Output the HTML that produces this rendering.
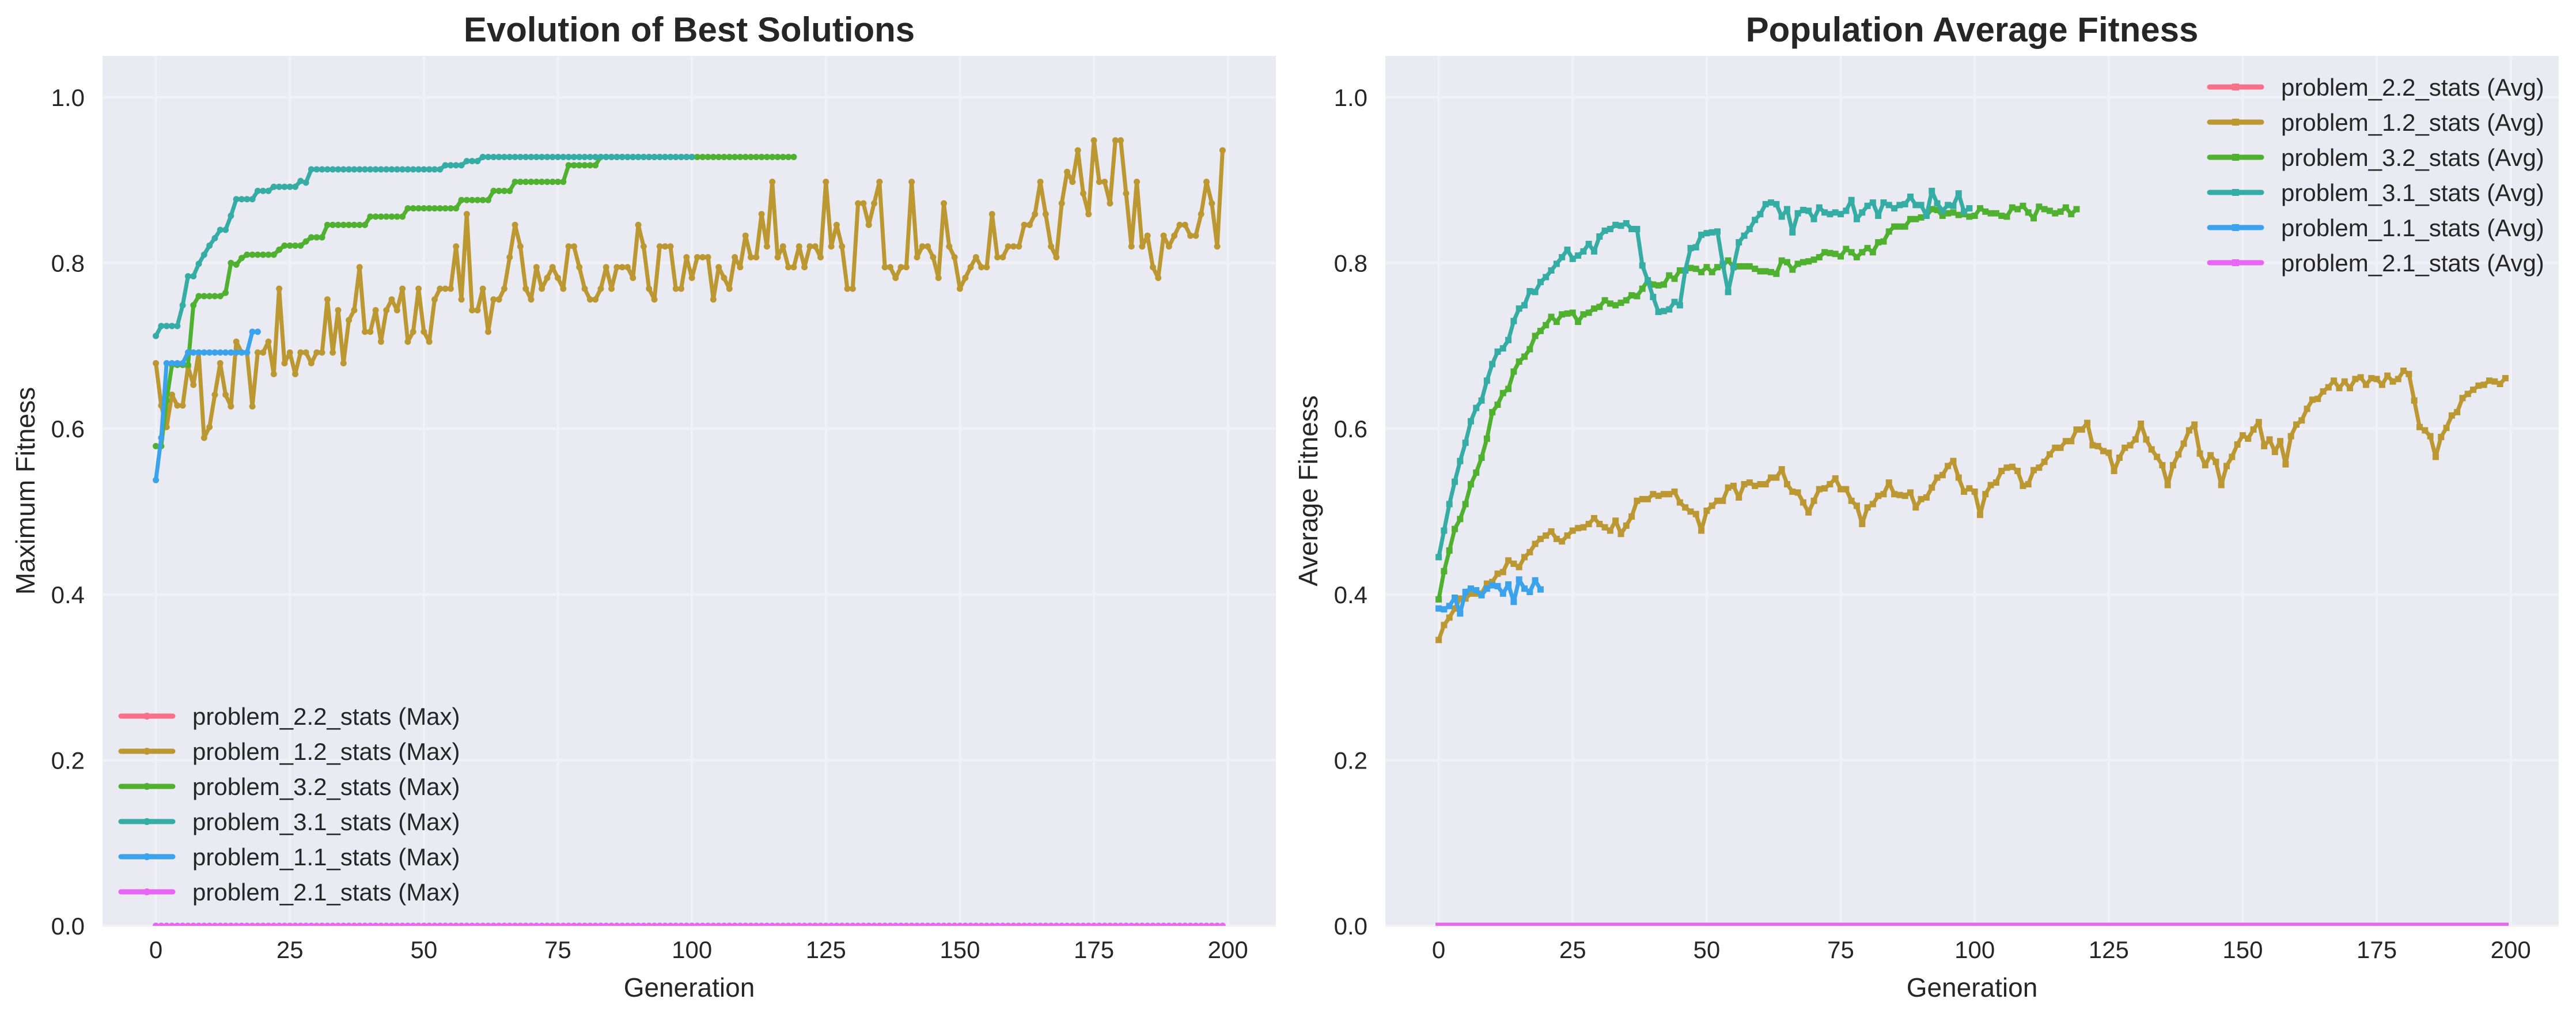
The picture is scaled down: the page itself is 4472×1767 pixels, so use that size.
<!DOCTYPE html>
<html><head><meta charset="utf-8">
<style>
html,body{margin:0;padding:0;background:#fff;}
svg{display:block;font-family:"Liberation Sans",Arial,sans-serif;}
</style></head>
<body>
<svg id="fig" xmlns="http://www.w3.org/2000/svg" width="4472" height="1767" viewBox="0 0 4472 1767"></svg>
<script>
const xTicks=[0,25,50,75,100,125,150,175,200];
const yTicks=[0,0.2,0.4,0.6,0.8,1.0];
const yTickLabels=["0.0","0.2","0.4","0.6","0.8","1.0"];
const seriesNames=["problem_2.2_stats","problem_1.2_stats","problem_3.2_stats","problem_3.1_stats","problem_1.1_stats","problem_2.1_stats"];
const seriesColors=["#f77189","#bb9832","#50b131","#36ada4","#3ba3ec","#e866f4"];

const zeros200=[0,0,0,0,0,0,0,0,0,0,0,0,0,0,0,0,0,0,0,0,0,0,0,0,0,0,0,0,0,0,0,0,0,0,0,0,0,0,0,0,0,0,0,0,0,0,0,0,0,0,0,0,0,0,0,0,0,0,0,0,0,0,0,0,0,0,0,0,0,0,0,0,0,0,0,0,0,0,0,0,0,0,0,0,0,0,0,0,0,0,0,0,0,0,0,0,0,0,0,0,0,0,0,0,0,0,0,0,0,0,0,0,0,0,0,0,0,0,0,0,0,0,0,0,0,0,0,0,0,0,0,0,0,0,0,0,0,0,0,0,0,0,0,0,0,0,0,0,0,0,0,0,0,0,0,0,0,0,0,0,0,0,0,0,0,0,0,0,0,0,0,0,0,0,0,0,0,0,0,0,0,0,0,0,0,0,0,0,0,0,0,0,0,0,0,0,0,0,0,0];

const max22=zeros200;
const max12=[.679,.628,.602,.641,.628,.628,.675,.653,.692,.589,
.602,.641,.679,.641,.627,.705,.692,.692,.627,.692,
.692,.705,.666,.769,.679,.692,.666,.692,.692,.679,
.692,.692,.756,.692,.743,.679,.731,.743,.795,.717,
.717,.743,.705,.743,.756,.743,.769,.705,.717,.769,
.717,.705,.756,.769,.769,.769,.820,.756,.859,.743,
.743,.769,.717,.756,.756,.769,.807,.846,.820,.769,
.756,.795,.769,.782,.795,.782,.769,.820,.820,.795,
.769,.756,.756,.769,.795,.769,.795,.795,.795,.782,
.846,.820,.769,.756,.820,.820,.820,.769,.769,.807,
.782,.807,.807,.807,.756,.795,.782,.769,.807,.795,
.833,.807,.807,.859,.820,.898,.807,.820,.795,.795,
.820,.795,.820,.820,.807,.898,.820,.846,.820,.769,
.769,.872,.872,.846,.872,.898,.795,.795,.782,.795,
.795,.898,.807,.820,.820,.807,.782,.872,.820,.807,
.769,.782,.795,.807,.795,.795,.859,.807,.807,.820,
.820,.820,.846,.846,.859,.898,.859,.820,.807,.872,
.910,.898,.936,.884,.859,.948,.898,.898,.872,.948,
.948,.884,.820,.898,.820,.833,.795,.782,.833,.820,
.833,.846,.846,.833,.833,.859,.898,.872,.820,.936];
const max32=[.579,.579,.634,.677,.677,.677,.677,.749,.760,.760,
.760,.760,.760,.764,.800,.798,.806,.810,.810,.810,
.810,.810,.810,.816,.821,.821,.821,.821,.826,.831,
.831,.831,.846,.846,.846,.846,.846,.846,.846,.846,
.856,.856,.856,.856,.856,.856,.856,.866,.866,.866,
.866,.866,.866,.866,.866,.866,.866,.876,.876,.876,
.876,.876,.876,.887,.887,.887,.887,.898,.898,.898,
.898,.898,.898,.898,.898,.898,.898,.918,.918,.918,
.918,.918,.918,.928,.928,.928,.928,.928,.928,.928,
.928,.928,.928,.928,.928,.928,.928,.928,.928,.928,
.928,.928,.928,.928,.928,.928,.928,.928,.928,.928,
.928,.928,.928,.928,.928,.928,.928,.928,.928,.928];
const max31=[.712,.724,.724,.724,.724,.749,.784,.784,.799,.810,
.821,.830,.840,.840,.857,.877,.877,.877,.877,.887,
.887,.887,.892,.892,.892,.892,.892,.899,.897,.913,
.913,.913,.913,.913,.913,.913,.913,.913,.913,.913,
.913,.913,.913,.913,.913,.913,.913,.913,.913,.913,
.913,.913,.913,.913,.918,.918,.918,.918,.923,.923,
.923,.928,.928,.928,.928,.928,.928,.928,.928,.928,
.928,.928,.928,.928,.928,.928,.928,.928,.928,.928,
.928,.928,.928,.928,.928,.928,.928,.928,.928,.928,
.928,.928,.928,.928,.928,.928,.928,.928,.928,.928,
.928];
const max11=[.538,.589,.679,.679,.679,.679,.692,.692,.692,.692,
.692,.692,.692,.692,.692,.692,.692,.692,.717,.717];
const max21=zeros200;

const avg22=zeros200;
const avg12=[.345,.363,.372,.383,.395,.395,.401,.401,.401,.413,
.415,.425,.427,.441,.437,.433,.445,.451,.461,.467,
.471,.476,.467,.464,.471,.477,.480,.481,.485,.492,
.485,.481,.477,.489,.473,.483,.494,.513,.515,.515,
.521,.519,.521,.521,.524,.511,.505,.500,.497,.477,
.501,.507,.513,.513,.529,.531,.517,.533,.535,.531,
.533,.533,.541,.541,.551,.533,.524,.523,.511,.499,
.513,.527,.528,.533,.540,.527,.527,.513,.507,.485,
.505,.509,.519,.521,.535,.521,.520,.519,.523,.505,
.515,.517,.529,.541,.544,.555,.561,.541,.524,.528,
.524,.496,.521,.532,.535,.549,.553,.554,.549,.531,
.533,.550,.553,.560,.569,.577,.577,.585,.585,.599,
.599,.607,.580,.579,.573,.571,.549,.565,.577,.580,
.587,.606,.587,.575,.566,.556,.532,.556,.569,.582,
.598,.605,.570,.556,.568,.560,.532,.555,.566,.581,
.592,.588,.599,.608,.579,.587,.572,.585,.557,.591,
.605,.610,.624,.635,.636,.645,.650,.658,.649,.657,
.649,.660,.662,.653,.661,.660,.653,.664,.657,.660,
.670,.666,.634,.602,.598,.591,.566,.590,.601,.616,
.620,.637,.642,.647,.652,.653,.658,.657,.654,.661];
const avg32=[.394,.428,.453,.479,.491,.509,.533,.547,.565,.588,
.620,.629,.643,.648,.669,.681,.687,.696,.712,.718,
.725,.735,.729,.738,.739,.740,.729,.738,.740,.745,
.747,.755,.751,.749,.752,.755,.761,.760,.769,.779,
.774,.773,.774,.785,.781,.791,.791,.794,.793,.789,
.795,.789,.795,.797,.803,.795,.796,.796,.796,.793,
.790,.790,.789,.787,.803,.801,.792,.799,.801,.802,
.804,.807,.813,.812,.811,.808,.817,.813,.807,.813,
.818,.813,.825,.826,.838,.844,.844,.844,.853,.853,
.855,.857,.865,.864,.857,.860,.861,.858,.859,.856,
.857,.866,.862,.860,.860,.857,.856,.867,.865,.869,
.861,.854,.868,.865,.863,.860,.862,.867,.859,.865];
const avg31=[.445,.477,.509,.536,.561,.583,.609,.625,.634,.658,
.678,.693,.697,.707,.730,.745,.749,.766,.765,.777,
.783,.791,.799,.807,.816,.805,.809,.814,.823,.814,
.832,.839,.841,.846,.845,.848,.841,.841,.797,.779,
.759,.741,.742,.744,.753,.749,.791,.818,.819,.834,
.836,.837,.838,.799,.765,.795,.825,.833,.841,.852,
.859,.871,.873,.871,.856,.865,.837,.860,.864,.863,
.853,.867,.861,.859,.861,.859,.863,.876,.853,.861,
.869,.873,.857,.873,.870,.866,.870,.871,.880,.870,
.870,.857,.887,.872,.863,.870,.869,.884,.862,.866];
const avg11=[.383,.382,.386,.396,.377,.403,.407,.405,.399,.407,
.411,.410,.401,.412,.391,.418,.407,.403,.417,.406];
const avg21=zeros200;

const maxSeries=[max22,max12,max32,max31,max11,max21];
const avgSeries=[avg22,avg12,avg32,avg31,avg11,avg21];

const NS="http://www.w3.org/2000/svg";
const svg=document.getElementById('fig');
function mk(tag,attrs,parent){const e=document.createElementNS(NS,tag);for(const k in attrs)e.setAttribute(k,attrs[k]);(parent||svg).appendChild(e);return e;}

function drawPanel(cfg){
  const L=cfg.left,R=cfg.right,T=97,B=1607;
  const xmin=-9.95,xmax=208.95,ymin=0,ymax=1.05;
  const sx=v=>L+(v-xmin)/(xmax-xmin)*(R-L);
  const sy=v=>B-(v-ymin)/(ymax-ymin)*(B-T);
  const g=mk('g',{});
  
  
  const bg=mk('rect',{x:L,y:T,width:R-L,height:B-T,fill:'#eaeaf2'},g);
  
  
  const clipId='clip-'+cfg.id;
  const cp=mk('clipPath',{id:clipId},g);mk('rect',{x:L,y:T,width:R-L,height:B-T},cp);
  xTicks.forEach(t=>{
    const ln=mk('line',{x1:sx(t),x2:sx(t),y1:T,y2:B,stroke:'#f2f2f6','stroke-width':4},g);
    
    
    const tx=mk('text',{x:sx(t),y:1663,'font-size':42,'text-anchor':'middle',fill:'#262626'},g);
    tx.textContent=t;
    
    
  });
  yTicks.forEach((t,i)=>{
    const ln=mk('line',{x1:L,x2:R,y1:sy(t),y2:sy(t),stroke:'#f2f2f6','stroke-width':4},g);
    
    
    const tx=mk('text',{x:L-31,y:sy(t)+15,'font-size':42,'text-anchor':'end',fill:'#262626'},g);
    tx.textContent=yTickLabels[i];
    
    
  });
  const plot=mk('g',{'clip-path':'url(#'+clipId+')'},g);
  cfg.series.forEach((arr,si)=>{
    const col=seriesColors[si];
    const sg=mk('g',{},plot);
    
    
    const pts=arr.map((v,i)=>sx(i).toFixed(1)+','+sy(v).toFixed(1)).join(' ');
    const pl=mk('polyline',{points:pts,fill:'none',stroke:col,'stroke-width':7,'stroke-linejoin':'round','stroke-linecap':'round'},sg);
    
    
    arr.forEach((v,i)=>{
      let m;
      if(cfg.square){m=mk('rect',{x:sx(i)-5.5,y:sy(v)-5.5,width:11,height:11,fill:col},sg);}
      else{m=mk('circle',{cx:sx(i),cy:sy(v),r:5.5,fill:col},sg);}
      
      
    });
  });
  const title=mk('text',{x:(L+R)/2,y:72,'font-size':60,'font-weight':'bold','text-anchor':'middle',fill:'#262626'},g);
  title.textContent=cfg.title;
  
  
  const xl=mk('text',{x:(L+R)/2,y:1730,'font-size':46,'text-anchor':'middle',fill:'#262626'},g);
  xl.textContent='Generation';
  
  
  const yl=mk('text',{x:0,y:0,'font-size':46,'text-anchor':'middle',fill:'#262626',transform:'translate('+cfg.ylabX+',852) rotate(-90)'},g);
  yl.textContent=cfg.ylabel;
  
  
  const lg=mk('g',{},g);
  
  
  seriesNames.forEach((n,i)=>{
    const y=cfg.legY+i*61;
    const e=mk('g',{},lg);
    
    
    mk('line',{x1:cfg.legX,x2:cfg.legX+90,y1:y,y2:y,stroke:seriesColors[i],'stroke-width':9,'stroke-linecap':'round'},e);
    if(cfg.square)mk('rect',{x:cfg.legX+39,y:y-6,width:12,height:12,fill:seriesColors[i]},e);
    else mk('circle',{cx:cfg.legX+45,cy:y,r:6,fill:seriesColors[i]},e);
    const t=mk('text',{x:cfg.legX+124,y:y+15,'font-size':42,fill:'#262626'},e);
    t.textContent=n+' '+cfg.suffix;
  });
}
drawPanel({id:'best',left:178,right:2215,series:maxSeries,square:false,title:'Evolution of Best Solutions',ylabel:'Maximum Fitness',ylabX:60,legX:210,legY:1243,suffix:'(Max)'});
drawPanel({id:'avg',left:2405,right:4442,series:avgSeries,square:true,title:'Population Average Fitness',ylabel:'Average Fitness',ylabX:2287,legX:3836,legY:151,suffix:'(Avg)'});
</script>
</body></html>
